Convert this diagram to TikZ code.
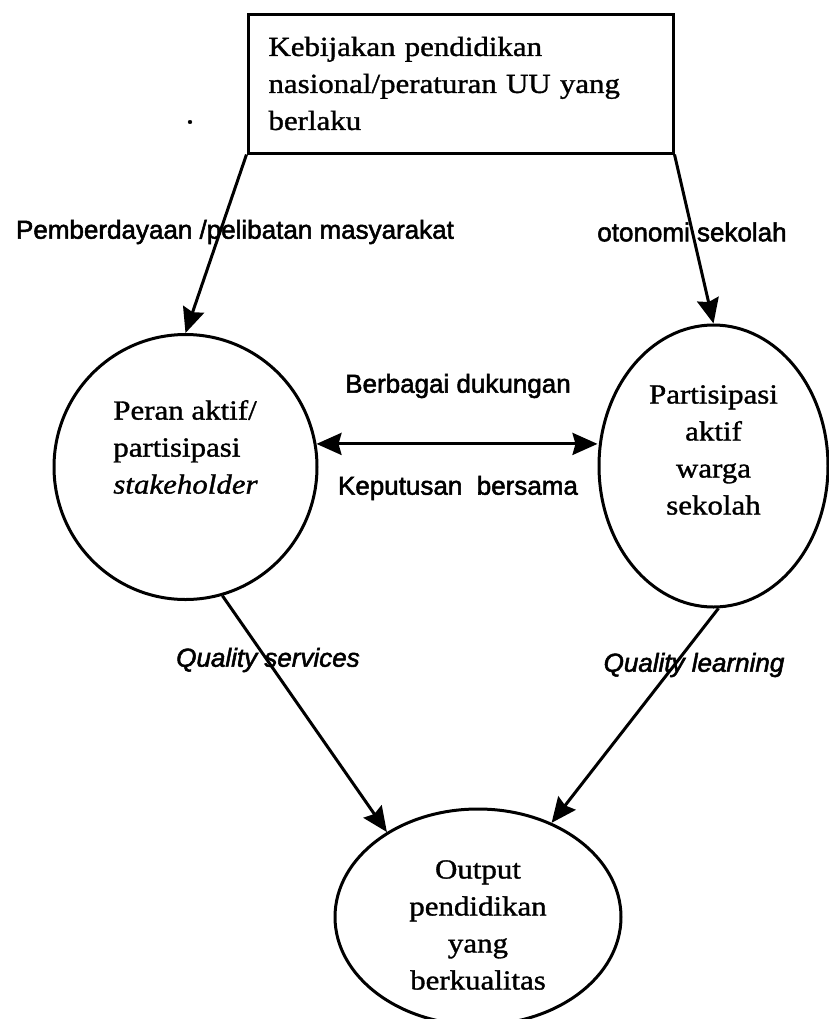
\documentclass[tikz,border=0pt]{standalone}
\usepackage{fontspec}
\setmainfont{Liberation Serif}[FakeStretch=1.12, FakeBold=1.2]
\newfontfamily\labelfont{Liberation Sans}[FakeBold=2]
\usetikzlibrary{positioning, shapes.geometric, arrows.meta}

\begin{document}
\begin{tikzpicture}[
    x=0.5pt, y=-0.5pt,
    on grid,
    line width=1.5pt,
    >={Stealth[length=12.5pt, width=11pt, inset=1.5pt]},
    box/.style={draw, rectangle, minimum width=212.5pt, minimum height=69.5pt, text width=192pt, align=left, font=\fontsize{13.8}{18.5}\selectfont},
    bubble/.style={draw, ellipse, inner sep=0pt},
    bubbletext/.style={inner sep=0pt, font=\fontsize{13.8}{18.5}\selectfont},
    tag/.style={inner sep=1pt, font=\labelfont\fontsize{13}{15}\selectfont},
    every edge/.append style={line width=1.5pt}
]
   \useasboundingbox (0,0) rectangle (829,1019);

   % Nodes
   \node[box] (kebijakan) at (460.5,83.5) {Kebijakan pendidikan\\ nasional/peraturan UU yang\\ berlaku};
   \node[bubble, minimum width=131.5pt, minimum height=132.5pt] (peran) [below left=191.75pt and 137.5pt of kebijakan] {};
   \node[bubble, minimum width=114.5pt, minimum height=141pt] (partisipasi) [below right=191.25pt and 126.5pt of kebijakan] {};
   \node[bubble, minimum width=143pt, minimum height=108pt, xshift=8.75pt] (output) [below=416.75pt of kebijakan] {};

   % Texts in the circles
   \node[bubbletext, align=left] (peran-text) at ([yshift=10pt]peran.center) {Peran aktif/\\ partisipasi\\ \textit{stakeholder}};
   \node[bubbletext, align=center] (partisipasi-text) at ([yshift=8pt]partisipasi.center) {Partisipasi\\ aktif\\ warga\\ sekolah};
   \node[bubbletext, align=center] (output-text) at ([yshift=-4pt]output.center) {Output\\ pendidikan\\ yang\\ berkualitas};
   \node[inner sep=0pt, font=\fontsize{15}{18}\selectfont] (dot) at (190,122) {.};

   % Arrows
   \path[->]
   (kebijakan.south west) edge (peran.north)
   (kebijakan.south east) edge (partisipasi.north)
   (peran.-74) edge (output.137)
   (partisipasi.-88) edge (output.52);
   \path[<->] (peran.10) edge (peran.10 -| partisipasi.west);

   % Labels
   \node[tag] (pemberdayaan) at (235,232) {Pemberdayaan /pelibatan masyarakat};
   \node[tag] (otonomi) at (692,232) {otonomi\ sekolah};
   \node[tag] (dukungan) at (458,386) {Berbagai dukungan};
   \node[tag] (keputusan) at (458,488) {Keputusan\ \ bersama};
   \node[tag, font=\labelfont\itshape\fontsize{13}{15}\selectfont] (services) at (268,660) {Quality services};
   \node[tag, font=\labelfont\itshape\fontsize{13}{15}\selectfont] (learning) at (694,665) {Quality learning};
\end{tikzpicture}
\end{document}
